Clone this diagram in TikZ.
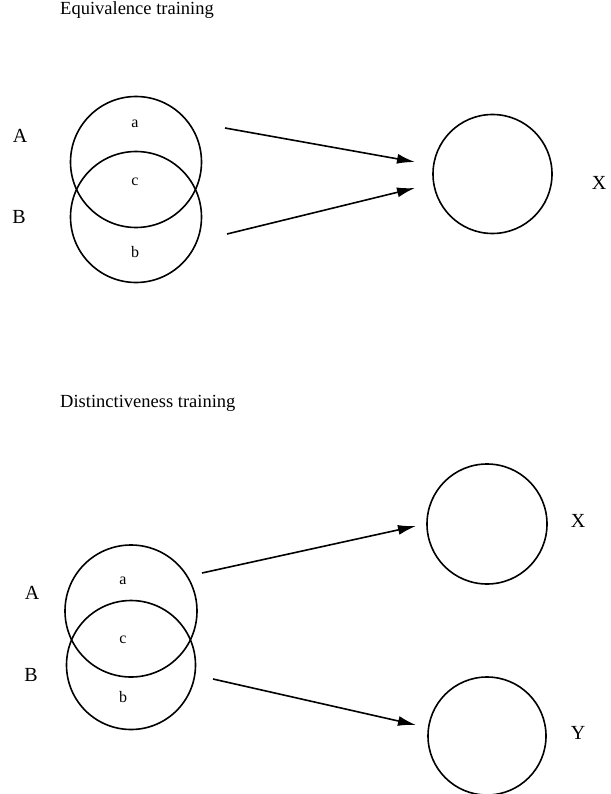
\documentclass[tikz,border=0pt]{standalone}
\usepackage{fontspec}
\setmainfont{Liberation Serif}
\usetikzlibrary{arrows.meta}
\begin{document}
\begin{tikzpicture}[x=1pt,y=-1pt,
  ring/.style={circle,draw,line width=1.6pt,inner sep=0pt,minimum size=#1},
  bigl/.style={font=\fontsize{20}{20}\selectfont,inner sep=0pt},
  smalll/.style={font=\fontsize{16}{16}\selectfont,inner sep=0pt},
  ttl/.style={font=\fontsize{18.5}{18.5}\selectfont,inner sep=0pt,anchor=base west},
  arr/.style={line width=1.6pt,-{Latex[length=18pt,width=10pt]}}]
\useasboundingbox (0,0) rectangle (610,794);
% top
\node[ttl] (t1) at (60,15) {Equivalence training};
\node[ring=131pt] (A1) at (136,162) {};
\node[ring=131pt] (B1) at (136,217) {};
\node[smalll] (a1) at (135,124) {a};
\node[smalll] (c1) at (135,182) {c};
\node[smalll] (b1) at (135,252) {b};
\node[bigl] (LA1) at (20,136) {A};
\node[bigl] (LB1) at (19,217) {B};
\node[ring=119pt] (X1) at (492.5,174) {};
\node[bigl] (LX1) at (599,183) {X};
\coordinate (s1) at (225,128);
\coordinate (e1) at (415,162);
\coordinate (s2) at (227,234);
\coordinate (e2) at (415,188);
\draw[arr] (s1) -- (e1);
\draw[arr] (s2) -- (e2);
% bottom
\node[ttl] (t2) at (60,407) {Distinctiveness training};
\node[ring=132pt] (A2) at (131,611) {};
\node[ring=129pt] (B2) at (131,665) {};
\node[smalll] (a2) at (123,581) {a};
\node[smalll] (c2) at (123,640) {c};
\node[smalll] (b2) at (123,697) {b};
\node[bigl] (LA2) at (32,593) {A};
\node[bigl] (LB2) at (31,675) {B};
\node[ring=120pt] (X2) at (487,524) {};
\node[ring=118pt] (Y2) at (487,736) {};
\node[bigl] (LX2) at (578,521) {X};
\node[bigl] (LY2) at (578,733) {Y};
\coordinate (s3) at (202,573);
\coordinate (e3) at (416,526);
\coordinate (s4) at (213,679);
\coordinate (e4) at (416,725);
\draw[arr] (s3) -- (e3);
\draw[arr] (s4) -- (e4);
\end{tikzpicture}
\end{document}
